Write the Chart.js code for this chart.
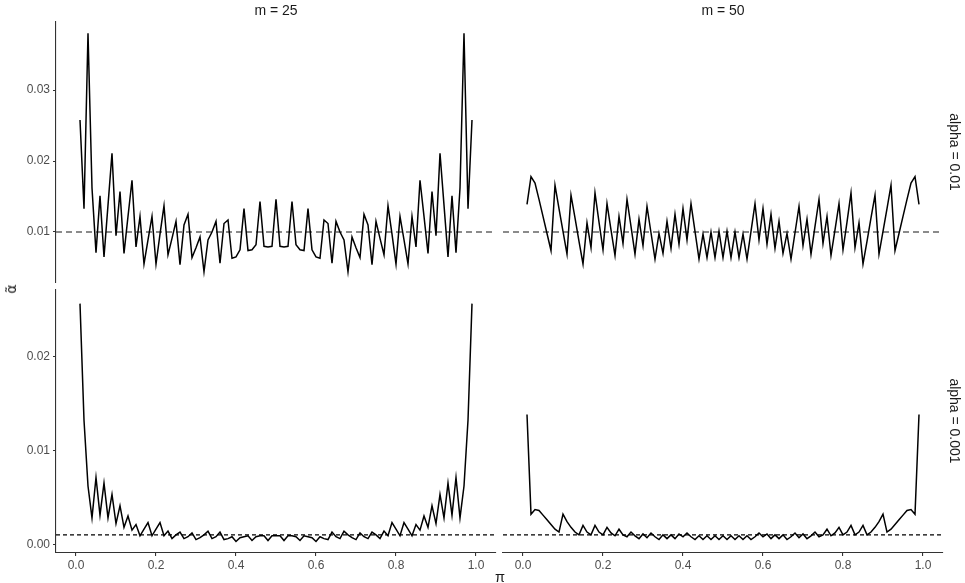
<!DOCTYPE html>
<html>
<head>
<meta charset="utf-8">
<script src="https://cdn.jsdelivr.net/npm/chart.js@4.4.1/dist/chart.umd.min.js"></script>
<style>
  body { margin: 0; background: #fff; }
  #wrap { position: relative; width: 965px; height: 583px; overflow: hidden; font-family: "Liberation Sans", Arial, sans-serif; }
  #wrap canvas { position: absolute; left: 0; top: 0; }
  .lbl { position: absolute; white-space: nowrap; color: #1a1a1a; font-size: 14px; transform: translate(-50%, -50%); }
</style>
</head>
<body>
<div id="wrap">
  <canvas id="c1" width="965" height="583"></canvas>
  <canvas id="c2" width="965" height="583"></canvas>
  <canvas id="c3" width="965" height="583"></canvas>
  <canvas id="c4" width="965" height="583"></canvas>
  <div class="lbl" style="left:276px; top:10px;">m = 25</div>
  <div class="lbl" style="left:723px; top:10px;">m = 50</div>
  <div class="lbl" style="left:955px; top:152px; transform: translate(-50%, -50%) rotate(90deg);">alpha = 0.01</div>
  <div class="lbl" style="left:955px; top:421px; transform: translate(-50%, -50%) rotate(90deg);">alpha = 0.001</div>
  <div class="lbl" style="left:11px; top:289px; font-size:14px; font-family:'DejaVu Sans', sans-serif; transform: translate(-50%, -50%) rotate(-90deg);">α̃</div>
  <div class="lbl" style="left:500px; top:577px; font-size:14.5px;">π</div>
</div>
<script>
// pi values (x)
const pi = [0.01,0.02,0.03,0.04,0.05,0.06,0.07,0.08,0.09,0.10,
  0.11,0.12,0.13,0.14,0.15,0.16,0.17,0.18,0.19,0.20,
  0.21,0.22,0.23,0.24,0.25,0.26,0.27,0.28,0.29,0.30,
  0.31,0.32,0.33,0.34,0.35,0.36,0.37,0.38,0.39,0.40,
  0.41,0.42,0.43,0.44,0.45,0.46,0.47,0.48,0.49,0.50,
  0.51,0.52,0.53,0.54,0.55,0.56,0.57,0.58,0.59,0.60,
  0.61,0.62,0.63,0.64,0.65,0.66,0.67,0.68,0.69,0.70,
  0.71,0.72,0.73,0.74,0.75,0.76,0.77,0.78,0.79,0.80,
  0.81,0.82,0.83,0.84,0.85,0.86,0.87,0.88,0.89,0.90,
  0.91,0.92,0.93,0.94,0.95,0.96,0.97,0.98,0.99];

// m = 25, alpha = 0.01
const m25_a01 = [0.0258,0.0133,0.0380,0.0162,0.0071,0.0151,0.0065,0.0138,0.0211,0.0095,
  0.0157,0.0070,0.0122,0.0173,0.0079,0.0122,0.0055,0.0089,0.0122,0.0055,
  0.0097,0.0137,0.0068,0.0091,0.0115,0.0054,0.0110,0.0125,0.0064,0.0078,
  0.0093,0.0044,0.0089,0.0100,0.0115,0.0056,0.0112,0.0117,0.0063,0.0065,
  0.0075,0.0133,0.0074,0.0075,0.0082,0.0143,0.0080,0.0079,0.0080,0.0146,
  0.0080,0.0079,0.0080,0.0143,0.0082,0.0075,0.0074,0.0133,0.0075,0.0065,
  0.0063,0.0117,0.0112,0.0056,0.0115,0.0100,0.0089,0.0044,0.0093,0.0078,
  0.0064,0.0125,0.0110,0.0054,0.0115,0.0091,0.0068,0.0137,0.0097,0.0055,
  0.0122,0.0089,0.0055,0.0122,0.0079,0.0173,0.0122,0.0070,0.0157,0.0095,
  0.0211,0.0138,0.0065,0.0151,0.0071,0.0162,0.0380,0.0133,0.0258];

// m = 50, alpha = 0.01
const m50_a01 = [0.0139,0.0178,0.0169,0.0146,0.0122,0.0098,0.0074,0.0166,0.0133,0.0101,
  0.0069,0.0152,0.0120,0.0087,0.0055,0.0113,0.0078,0.0155,0.0114,0.0075,
  0.0140,0.0103,0.0067,0.0122,0.0084,0.0146,0.0108,0.0069,0.0118,0.0081,
  0.0136,0.0099,0.0062,0.0098,0.0070,0.0115,0.0077,0.0125,0.0083,0.0133,
  0.0089,0.0140,0.0101,0.0062,0.0097,0.0064,0.0100,0.0064,0.0101,0.0064,
  0.0101,0.0064,0.0100,0.0064,0.0097,0.0062,0.0101,0.0140,0.0089,0.0133,
  0.0083,0.0125,0.0077,0.0115,0.0070,0.0098,0.0062,0.0099,0.0136,0.0081,
  0.0118,0.0069,0.0108,0.0146,0.0084,0.0122,0.0067,0.0103,0.0140,0.0075,
  0.0114,0.0155,0.0078,0.0113,0.0055,0.0087,0.0120,0.0152,0.0069,0.0101,
  0.0133,0.0166,0.0074,0.0098,0.0122,0.0146,0.0169,0.0178,0.0139];

// m = 25, alpha = 0.001
const m25_a001 = [0.0256,0.0132,0.0062,0.0028,0.0071,0.0031,0.0065,0.0028,0.0053,0.0022,
  0.0041,0.0018,0.0030,0.0015,0.0021,0.0009,0.0016,0.0023,0.0009,0.0016,
  0.0023,0.0009,0.0014,0.0006,0.0010,0.0013,0.0006,0.0008,0.0012,0.0005,
  0.0007,0.0010,0.0014,0.0006,0.0008,0.0013,0.0005,0.0006,0.0008,0.0003,
  0.0007,0.0008,0.0009,0.0004,0.0008,0.0009,0.0009,0.0004,0.0009,0.0009,
  0.0009,0.0004,0.0009,0.0009,0.0008,0.0004,0.0009,0.0008,0.0007,0.0003,
  0.0008,0.0006,0.0005,0.0013,0.0008,0.0006,0.0014,0.0010,0.0007,0.0005,
  0.0012,0.0008,0.0006,0.0013,0.0010,0.0006,0.0014,0.0009,0.0023,0.0016,
  0.0009,0.0023,0.0016,0.0009,0.0021,0.0015,0.0030,0.0018,0.0041,0.0022,
  0.0053,0.0028,0.0065,0.0031,0.0071,0.0028,0.0062,0.0132,0.0256];

// m = 50, alpha = 0.001
const m50_a001 = [0.0138,0.0032,0.0037,0.0036,0.0031,0.0026,0.0021,0.0016,0.0013,0.0032,
  0.0024,0.0018,0.0013,0.0010,0.0020,0.0013,0.0010,0.0020,0.0013,0.0010,
  0.0018,0.0012,0.0009,0.0016,0.0010,0.0008,0.0013,0.0009,0.0006,0.0011,
  0.0007,0.0012,0.0008,0.0005,0.0010,0.0006,0.0010,0.0006,0.0011,0.0008,
  0.0012,0.0008,0.0005,0.0009,0.0005,0.0009,0.0005,0.0009,0.0005,0.0009,
  0.0005,0.0009,0.0005,0.0009,0.0005,0.0009,0.0005,0.0008,0.0012,0.0008,
  0.0011,0.0006,0.0010,0.0006,0.0010,0.0005,0.0008,0.0012,0.0007,0.0011,
  0.0006,0.0009,0.0013,0.0008,0.0010,0.0016,0.0009,0.0012,0.0018,0.0010,
  0.0013,0.0020,0.0010,0.0013,0.0020,0.0010,0.0013,0.0018,0.0024,0.0032,
  0.0013,0.0016,0.0021,0.0026,0.0031,0.0036,0.0037,0.0032,0.0138];

const xTicks = [0, 0.2, 0.4, 0.6, 0.8, 1.0];
const yTicksTop = [0.01, 0.02, 0.03];
const yTicksBottom = [0.00, 0.01, 0.02];

const tickFont = { family: "'Liberation Sans', Arial, sans-serif", size: 12 };
const axisCol = "#333333";

function panel(id, vals, alpha, o) {
  const ctx = document.getElementById(id).getContext("2d");
  const pts = pi.map((p, i) => ({ x: p, y: vals[i] }));
  new Chart(ctx, {
    type: "line",
    data: {
      datasets: [
        {
          data: pts,
          borderColor: "#000",
          borderWidth: 1.5,
          pointRadius: 0,
          tension: 0
        },
        {
          data: [{ x: -0.05, y: alpha }, { x: 1.05, y: alpha }],
          borderColor: o.refCol,
          borderWidth: o.refW,
          borderDash: o.dash,
          pointRadius: 0
        }
      ]
    },
    options: {
      responsive: false,
      animation: false,
      devicePixelRatio: 1,
      layout: { padding: o.pad },
      plugins: { legend: { display: false }, tooltip: { enabled: false } },
      scales: {
        x: {
          type: "linear",
          min: -0.05, max: 1.05,
          display: o.showX,
          border: { display: true, color: axisCol, width: 1.1 },
          grid: { drawOnChartArea: false, drawTicks: true, tickLength: 3, color: axisCol, lineWidth: 1.1 },
          afterBuildTicks: s => { s.ticks = xTicks.map(v => ({ value: v })); },
          afterFit: s => { s.height = o.showX ? 30 : 0; },
          ticks: { color: "#4d4d4d", font: tickFont, padding: 2, maxRotation: 0,
                   callback: v => Number(v).toFixed(1) }
        },
        y: {
          type: "linear",
          min: o.ymin, max: o.ymax,
          display: o.showY,
          border: { display: true, color: axisCol, width: 1.1 },
          grid: { drawOnChartArea: false, drawTicks: true, tickLength: 3, color: axisCol, lineWidth: 1.1 },
          afterBuildTicks: s => { s.ticks = o.yTicks.map(v => ({ value: v })); },
          afterFit: s => { s.width = o.showY ? 56 : 0; },
          ticks: { color: "#4d4d4d", font: tickFont, padding: 3,
                   callback: v => Number(v).toFixed(2) }
        }
      }
    }
  });
}

// top row: 22..283, bottom row: 290..553 ; left col 56..496, right col 503..943
panel("c1", m25_a01, 0.01, {
  pad: { left: 0, right: 965 - 496, top: 22, bottom: 583 - 283 },
  showX: false, showY: true, ymin: 0.00282, ymax: 0.0396, yTicks: yTicksTop,
  refCol: "#666666", refW: 1.5, dash: [6, 4]
});
panel("c2", m50_a01, 0.01, {
  pad: { left: 503, right: 965 - 943, top: 22, bottom: 583 - 283 },
  showX: false, showY: false, ymin: 0.00282, ymax: 0.0396, yTicks: yTicksTop,
  refCol: "#666666", refW: 1.5, dash: [6, 4]
});
panel("c3", m25_a001, 0.001, {
  pad: { left: 0, right: 965 - 496, top: 290, bottom: 0 },
  showX: true, showY: true, ymin: -0.00093, ymax: 0.02705, yTicks: yTicksBottom,
  refCol: "#000000", refW: 1.1, dash: [4, 3]
});
panel("c4", m50_a001, 0.001, {
  pad: { left: 503, right: 965 - 943, top: 290, bottom: 0 },
  showX: true, showY: false, ymin: -0.00093, ymax: 0.02705, yTicks: yTicksBottom,
  refCol: "#000000", refW: 1.1, dash: [4, 3]
});
</script>
</body>
</html>
